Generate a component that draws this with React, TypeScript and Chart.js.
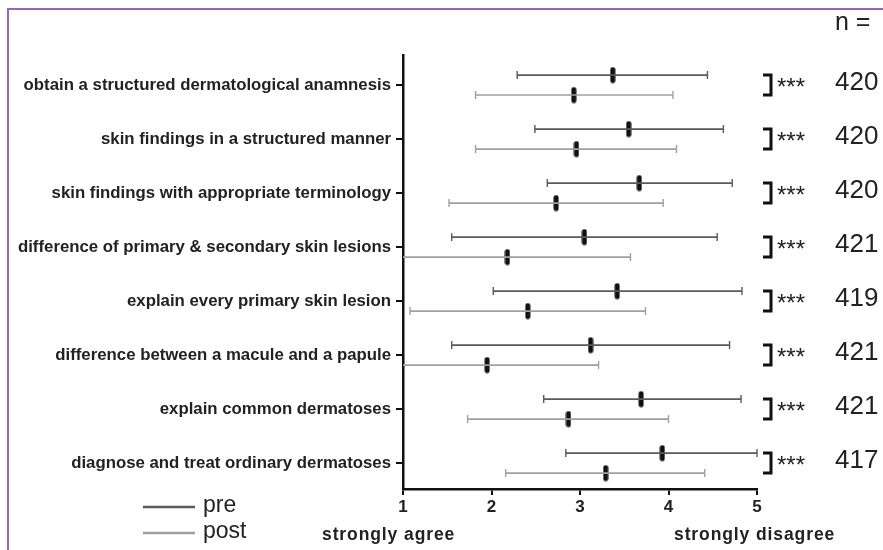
import { useEffect, useRef } from "react";
import { Chart, registerables } from "chart.js";

Chart.register(...registerables);

const categories = [
  "obtain a structured dermatological anamnesis",
  "skin findings in a structured manner",
  "skin findings with appropriate terminology",
  "difference of primary & secondary skin lesions",
  "explain every primary skin lesion",
  "difference between a macule and a papule",
  "explain common dermatoses",
  "diagnose and treat ordinary dermatoses",
];
const preMean = [3.37, 3.55, 3.67, 3.05, 3.42, 3.12, 3.69, 3.93];
const preLow = [2.29, 2.49, 2.63, 1.55, 2.02, 1.55, 2.59, 2.84];
const preHigh = [4.44, 4.62, 4.72, 4.55, 4.83, 4.69, 4.82, 5.0];
const postMean = [2.93, 2.96, 2.73, 2.18, 2.41, 1.95, 2.87, 3.29];
const postLow = [1.82, 1.82, 1.52, 0.8, 1.08, 0.8, 1.73, 2.16];
const postHigh = [4.05, 4.09, 3.94, 3.57, 3.74, 3.21, 4.0, 4.41];
const nValues = [420, 420, 420, 421, 419, 421, 421, 417];
const significance = ["***", "***", "***", "***", "***", "***", "***", "***"];
const xTicks = [1, 2, 3, 4, 5];
const xEndLabels = ["strongly agree", "strongly disagree"];
const seriesNames = ["pre", "post"];

const PRE_COLOR = "#5a5a5a";
const POST_COLOR = "#a0a0a0";
const OFFSET = 0.185;
const FONT = "'Liberation Sans', Arial, sans-serif";

function rangeData(low: number[], high: number[], off: number) {
  const out: { x: number; y: number }[] = [];
  low.forEach((l, i) => {
    out.push({ x: l, y: i + off });
    out.push({ x: high[i], y: i + off });
    out.push({ x: NaN, y: NaN });
  });
  return out;
}

function meanMarker() {
  const c = document.createElement("canvas");
  c.width = 6;
  c.height = 17;
  const g = c.getContext("2d")!;
  g.fillStyle = "#111";
  g.beginPath();
  (g as any).roundRect(0.5, 0.5, 5, 16, 2.5);
  g.fill();
  return c;
}

const overlay = {
  id: "overlay",
  afterDraw(chart: any) {
    const ctx = chart.ctx as CanvasRenderingContext2D;
    const ys = chart.scales.y;
    ctx.save();
    // frame
    ctx.strokeStyle = "#9b62b5";
    ctx.lineWidth = 2;
    ctx.beginPath();
    ctx.moveTo(8, 550);
    ctx.lineTo(8, 9);
    ctx.lineTo(883, 9);
    ctx.stroke();

    // brackets, stars, n
    categories.forEach((_, i) => {
      const yTop = ys.getPixelForValue(i - OFFSET);
      const yBot = ys.getPixelForValue(i + OFFSET);
      const yc = ys.getPixelForValue(i);
      ctx.strokeStyle = "#111";
      ctx.lineWidth = 3;
      ctx.beginPath();
      ctx.moveTo(763, yTop);
      ctx.lineTo(771, yTop);
      ctx.lineTo(771, yBot);
      ctx.lineTo(763, yBot);
      ctx.stroke();
      ctx.fillStyle = "#222";
      ctx.font = `24px ${FONT}`;
      ctx.textAlign = "left";
      ctx.textBaseline = "middle";
      ctx.fillText(significance[i], 777, yc + 3);
      ctx.font = `26px ${FONT}`;
      ctx.fillText(String(nValues[i]), 835, yc - 2);
    });
    ctx.font = `25px ${FONT}`;
    ctx.fillStyle = "#222";
    ctx.textAlign = "left";
    ctx.textBaseline = "middle";
    ctx.fillText("n =", 835, 23);

    // end labels
    ctx.font = `bold 17.5px ${FONT}`;
    ctx.fillStyle = "#222";
    ctx.textBaseline = "middle";
    (ctx as any).letterSpacing = "0.9px";
    ctx.textAlign = "left";
    ctx.fillText(xEndLabels[0], 322, 535);
    ctx.fillText(xEndLabels[1], 674, 535);
    (ctx as any).letterSpacing = "0px";

    // legend
    const colors = [PRE_COLOR, POST_COLOR];
    const ly = [507, 533];
    seriesNames.forEach((name, k) => {
      ctx.strokeStyle = colors[k];
      ctx.lineWidth = 2.5;
      ctx.beginPath();
      ctx.moveTo(143, ly[k]);
      ctx.lineTo(195, ly[k]);
      ctx.stroke();
      ctx.fillStyle = "#222";
      ctx.font = `23px ${FONT}`;
      ctx.textAlign = "left";
      ctx.fillText(name, 203, ly[k] - 1);
    });
    ctx.restore();
  },
};

export default function App() {
  const ref = useRef<HTMLCanvasElement>(null);
  useEffect(() => {
    if (!ref.current) return;
    const marker = meanMarker();
    const clip = { left: 0, right: 6, top: 10, bottom: 10 };
    const chart = new Chart(ref.current, {
      type: "line",
      data: {
        datasets: [
          {
            label: seriesNames[0],
            data: rangeData(preLow, preHigh, -OFFSET),
            borderColor: PRE_COLOR,
            borderWidth: 1.7,
            pointStyle: "line",
            rotation: 90,
            pointRadius: 4,
            pointBorderWidth: 1.4,
            pointBorderColor: PRE_COLOR,
            spanGaps: false,
            clip,
          } as any,
          {
            label: seriesNames[1],
            data: rangeData(postLow, postHigh, OFFSET),
            borderColor: POST_COLOR,
            borderWidth: 1.7,
            pointStyle: "line",
            rotation: 90,
            pointRadius: 4,
            pointBorderWidth: 1.4,
            pointBorderColor: POST_COLOR,
            spanGaps: false,
            clip,
          } as any,
          {
            label: "pre mean",
            data: preMean.map((v, i) => ({ x: v, y: i - OFFSET })),
            showLine: false,
            pointStyle: marker,
            pointRadius: 8,
            clip,
          } as any,
          {
            label: "post mean",
            data: postMean.map((v, i) => ({ x: v, y: i + OFFSET })),
            showLine: false,
            pointStyle: marker,
            pointRadius: 8,
            clip,
          } as any,
        ],
      },
      options: {
        responsive: false,
        animation: false,
        layout: { padding: { top: 55, right: 126, left: 0, bottom: 0 } },
        plugins: { legend: { display: false }, tooltip: { enabled: false } },
        scales: {
          x: {
            type: "linear",
            min: 1,
            max: 5,
            afterBuildTicks: (s: any) => {
              s.ticks = xTicks.map((v) => ({ value: v }));
            },
            afterFit: (s: any) => {
              s.height = 61;
            },
            border: { display: true, color: "#111", width: 2.5 },
            grid: {
              drawOnChartArea: false,
              drawTicks: true,
              tickLength: 6,
              color: "#111",
              lineWidth: 2,
            },
            ticks: {
              color: "#222",
              font: { family: FONT, size: 17, weight: "bold" },
              padding: 2,
            },
          },
          y: {
            type: "linear",
            reverse: true,
            min: -0.556,
            max: 7.48,
            afterBuildTicks: (s: any) => {
              s.ticks = categories.map((_, i) => ({ value: i }));
            },
            afterFit: (s: any) => {
              s.width = 403;
            },
            border: { display: true, color: "#111", width: 2.5 },
            grid: {
              drawOnChartArea: false,
              drawTicks: true,
              tickLength: 7,
              color: "#111",
              lineWidth: 2,
            },
            ticks: {
              color: "#222",
              font: { family: FONT, size: 16.8, weight: "bold" },
              padding: 5,
              callback: (v: any) => categories[v as number] ?? "",
            },
          },
        },
      },
      plugins: [overlay],
    });
    return () => chart.destroy();
  }, []);
  return (
    <div style={{ position: "absolute", left: 0, top: 0, width: 883, height: 550, background: "#fff" }}>
      <canvas ref={ref} width={883} height={550} style={{ width: 883, height: 550 }} />
    </div>
  );
}
